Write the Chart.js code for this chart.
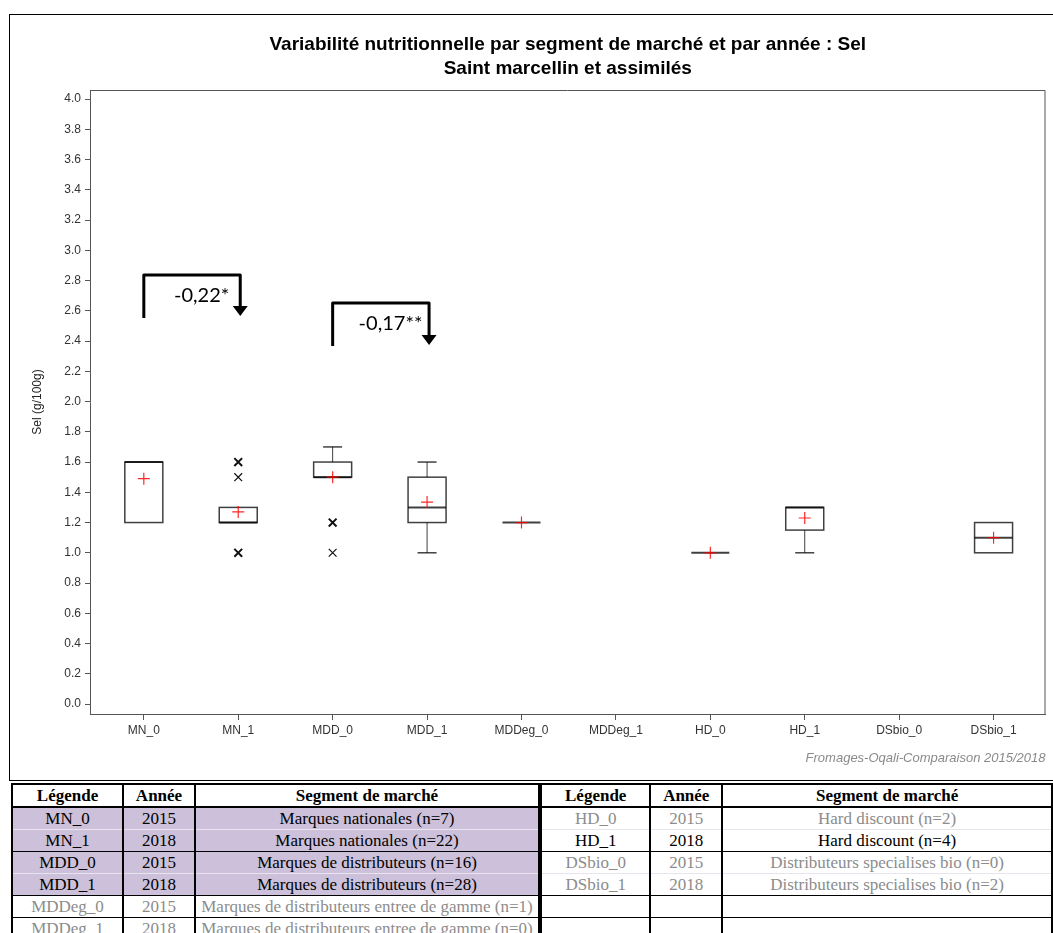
<!DOCTYPE html>
<html>
<head>
<meta charset="utf-8">
<script src="https://cdn.jsdelivr.net/npm/chart.js@4.4.0/dist/chart.umd.min.js"></script>
<style>
  body { margin: 0; background: #fff; width: 1053px; height: 933px; overflow: hidden; position: relative; }
  #frame { position: absolute; left: 9px; top: 14px; width: 1046px; height: 767px; border: 1.5px solid #000; box-sizing: border-box; }
  #wrap { position: absolute; left: 0; top: 0; width: 1053px; height: 780px; }
  table { position: absolute; top: 783px; border-collapse: collapse; font-family: 'Liberation Serif', serif; font-size: 17px; table-layout: fixed; }
  td, th { border-left: 2px solid #000; border-right: 2px solid #000; border-top: 1px solid #e8e4ee; padding: 0; height: 21px; line-height: 21px; text-align: center; white-space: nowrap; overflow: hidden; }
  th { border-top: 2px solid #000; border-bottom: 2px solid #000; height: 21px; }
  tr.sep td { border-top: 1.5px solid #000; }
  .p td { background: #ccc0da; }
  .g td { color: #8c8c8c; }
</style>
</head>
<body>
<div id="frame"></div>
<div id="wrap"><canvas id="c" width="1053" height="780"></canvas></div>

<table style="left:11px">
  <colgroup><col style="width:111px"><col style="width:72px"><col style="width:344px"></colgroup>
  <tr><th>Légende</th><th>Année</th><th>Segment de marché</th></tr>
  <tr class="p"><td>MN_0</td><td>2015</td><td>Marques nationales (n=7)</td></tr>
  <tr class="p"><td>MN_1</td><td>2018</td><td>Marques nationales (n=22)</td></tr>
  <tr class="p sep"><td>MDD_0</td><td>2015</td><td>Marques de distributeurs (n=16)</td></tr>
  <tr class="p"><td>MDD_1</td><td>2018</td><td>Marques de distributeurs (n=28)</td></tr>
  <tr class="g sep"><td>MDDeg_0</td><td>2015</td><td>Marques de distributeurs entree de gamme (n=1)</td></tr>
  <tr class="g sep"><td>MDDeg_1</td><td>2018</td><td>Marques de distributeurs entree de gamme (n=0)</td></tr>
</table>
<table style="left:540px">
  <colgroup><col style="width:110px"><col style="width:72px"><col style="width:331px"></colgroup>
  <tr><th>Légende</th><th>Année</th><th>Segment de marché</th></tr>
  <tr class="g"><td>HD_0</td><td>2015</td><td>Hard discount (n=2)</td></tr>
  <tr><td>HD_1</td><td>2018</td><td>Hard discount (n=4)</td></tr>
  <tr class="g sep"><td>DSbio_0</td><td>2015</td><td>Distributeurs specialises bio (n=0)</td></tr>
  <tr class="g"><td>DSbio_1</td><td>2018</td><td>Distributeurs specialises bio (n=2)</td></tr>
  <tr class="sep"><td></td><td></td><td></td></tr>
  <tr class="sep"><td></td><td></td><td></td></tr>
</table>

<script>
// segments (x axis)
const categories = ['MN_0', 'MN_1', 'MDD_0', 'MDD_1', 'MDDeg_0', 'MDDeg_1', 'HD_0', 'HD_1', 'DSbio_0', 'DSbio_1'];

// box plot stats, g/100g (null = no data)
const whiskerLow  = [1.2, 1.2, 1.5, 1.0, 1.2, null, 1.0, 1.0,  null, 1.0];
const q1          = [1.2, 1.2, 1.5, 1.2, 1.2, null, 1.0, 1.15, null, 1.0];
const median      = [1.6, 1.2, 1.5, 1.3, 1.2, null, 1.0, 1.3,  null, 1.1];
const q3          = [1.6, 1.3, 1.6, 1.5, 1.2, null, 1.0, 1.3,  null, 1.2];
const whiskerHigh = [1.6, 1.3, 1.7, 1.6, 1.2, null, 1.0, 1.3,  null, 1.2];
const means       = [1.49, 1.27, 1.5, 1.335, 1.2, null, 1.0, 1.23, null, 1.1];

// outliers: category index, value, number of products at that value
const outlierCat   = [1, 1, 1, 2, 2];
const outlierValue = [1.6, 1.5, 1.0, 1.2, 1.0];
const outlierCount = [2, 1, 2, 2, 1];

const yTicks = [0.0, 0.2, 0.4, 0.6, 0.8, 1.0, 1.2, 1.4, 1.6, 1.8, 2.0, 2.2, 2.4, 2.6, 2.8, 3.0, 3.2, 3.4, 3.6, 3.8, 4.0];

// significant differences between years
const diffFrom  = [0, 2];
const diffTo    = [1, 3];
const diffLabel = ['-0,22*', '-0,17**'];
const diffTop   = [2.836, 2.651];
const diffStart = [2.552, 2.367];
const diffEnd   = [2.565, 2.374];

const axisColor = '#555';

const boxPlugin = {
  id: 'boxes',
  beforeDatasetsDraw(chart) {
    const { ctx, scales: { x, y } } = chart;
    const half = 19;
    ctx.save();
    ctx.strokeStyle = 'rgba(0,0,0,0.75)';
    categories.forEach((c, i) => {
      if (q1[i] == null) return;
      const cx = x.getPixelForValue(i);
      const yq1 = y.getPixelForValue(q1[i]);
      const yq3 = y.getPixelForValue(q3[i]);
      const ymed = y.getPixelForValue(median[i]);
      const ylo = y.getPixelForValue(whiskerLow[i]);
      const yhi = y.getPixelForValue(whiskerHigh[i]);
      // whiskers
      ctx.lineWidth = 1;
      if (ylo > yq1 + 0.5) {
        ctx.beginPath(); ctx.moveTo(cx, yq1); ctx.lineTo(cx, ylo); ctx.stroke();
        ctx.lineWidth = 1.5;
        ctx.beginPath(); ctx.moveTo(cx - half / 2, ylo); ctx.lineTo(cx + half / 2, ylo); ctx.stroke();
      }
      ctx.lineWidth = 1;
      if (yhi < yq3 - 0.5) {
        ctx.beginPath(); ctx.moveTo(cx, yq3); ctx.lineTo(cx, yhi); ctx.stroke();
        ctx.lineWidth = 1.5;
        ctx.beginPath(); ctx.moveTo(cx - half / 2, yhi); ctx.lineTo(cx + half / 2, yhi); ctx.stroke();
      }
      // box
      ctx.lineWidth = 1.5;
      if (Math.abs(yq1 - yq3) > 0.5) {
        ctx.strokeRect(cx - half, yq3, half * 2, yq1 - yq3);
      }
      // median
      ctx.lineWidth = 2;
      ctx.beginPath(); ctx.moveTo(cx - half, ymed); ctx.lineTo(cx + half, ymed); ctx.stroke();
    });
    ctx.restore();
  },
  afterDraw(chart) {
    const { ctx, chartArea: a, scales: { x, y } } = chart;
    ctx.save();
    // plot frame top / right
    ctx.strokeStyle = axisColor;
    ctx.lineWidth = 1;
    ctx.beginPath();
    ctx.moveTo(a.left, a.top + 0.5); ctx.lineTo(a.right - 0.5, a.top + 0.5); ctx.lineTo(a.right - 0.5, a.bottom);
    ctx.stroke();
    // difference brackets
    diffLabel.forEach((lab, k) => {
      const x1 = x.getPixelForValue(diffFrom[k]);
      const x2 = x.getPixelForValue(diffTo[k]) + 2;
      const yt = y.getPixelForValue(diffTop[k]);
      const ys = y.getPixelForValue(diffStart[k]);
      const ye = y.getPixelForValue(diffEnd[k]);
      ctx.strokeStyle = '#000';
      ctx.fillStyle = '#000';
      ctx.lineWidth = 3;
      ctx.lineJoin = 'round';
      ctx.beginPath();
      ctx.moveTo(x1, ys); ctx.lineTo(x1, yt); ctx.lineTo(x2, yt); ctx.lineTo(x2, ye - 9);
      ctx.stroke();
      ctx.beginPath();
      ctx.moveTo(x2 - 7.5, ye - 10); ctx.lineTo(x2 + 7.5, ye - 10); ctx.lineTo(x2, ye);
      ctx.closePath(); ctx.fill();
      ctx.font = '20px Lato';
      ctx.textAlign = 'center';
      ctx.textBaseline = 'middle';
      ctx.fillText(lab, x1 + (x2 - x1) * 0.6, yt + 20);
    });
    ctx.restore();
  }
};

const meanData = [];
means.forEach((m, i) => { if (m != null) meanData.push({ x: i, y: m }); });
const outlierData = outlierCat.map((c, i) => ({ x: c, y: outlierValue[i] }));

new Chart(document.getElementById('c'), {
  type: 'scatter',
  data: {
    datasets: [
      {
        data: meanData,
        pointStyle: 'cross',
        radius: 6,
        borderColor: 'rgba(255,0,0,0.85)',
        borderWidth: 1.2
      },
      {
        data: outlierData,
        pointStyle: 'crossRot',
        radius: 5.5,
        borderColor: '#111',
        borderWidth: (ctx) => (outlierCount[ctx.dataIndex] > 1 ? 2 : 1.2)
      }
    ]
  },
  options: {
    responsive: false,
    animation: false,
    layout: { padding: { left: 0, right: 5, top: 0, bottom: 0 } },
    plugins: {
      legend: { display: false },
      tooltip: { enabled: false },
      title: {
        display: true,
        fullSize: false,
        text: ['Variabilité nutritionnelle par segment de marché et par année : Sel', 'Saint marcellin et assimilés'],
        color: '#000',
        font: { family: 'Liberation Sans', size: 19, weight: 'bold', lineHeight: '24px' },
        padding: { top: 33, bottom: 9 }
      }
    },
    scales: {
      x: {
        type: 'linear',
        min: -0.57,
        max: 9.55,
        afterBuildTicks: (s) => { s.ticks = categories.map((c, i) => ({ value: i })); },
        afterFit: (s) => { s.height = 66; },
        ticks: {
          autoSkip: false,
          maxRotation: 0,
          padding: 3,
          color: '#333',
          font: { family: 'Liberation Sans', size: 12 },
          callback: (v) => categories[v]
        },
        grid: { drawOnChartArea: false, tickLength: 6, color: axisColor },
        border: { color: axisColor },
        title: {
          display: true,
          text: 'Fromages-Oqali-Comparaison 2015/2018',
          align: 'end',
          color: '#8a8a8a',
          font: { family: 'Liberation Sans', size: 13, style: 'italic' },
          padding: { top: 0, bottom: 14 }
        }
      },
      y: {
        min: -0.066,
        max: 4.06,
        afterBuildTicks: (s) => { s.ticks = yTicks.map((v) => ({ value: v })); },
        afterFit: (s) => { s.width = 90; },
        ticks: {
          padding: 4,
          color: '#333',
          font: { family: 'Liberation Sans', size: 12 },
          callback: (v) => v.toFixed(1)
        },
        grid: { drawOnChartArea: false, tickLength: 5, color: axisColor },
        border: { color: axisColor },
        title: {
          display: true,
          text: 'Sel (g/100g)',
          color: '#222',
          font: { family: 'Liberation Sans', size: 12 },
          padding: { top: 30, bottom: 0 }
        }
      }
    }
  },
  plugins: [boxPlugin]
});
</script>
</body>
</html>
